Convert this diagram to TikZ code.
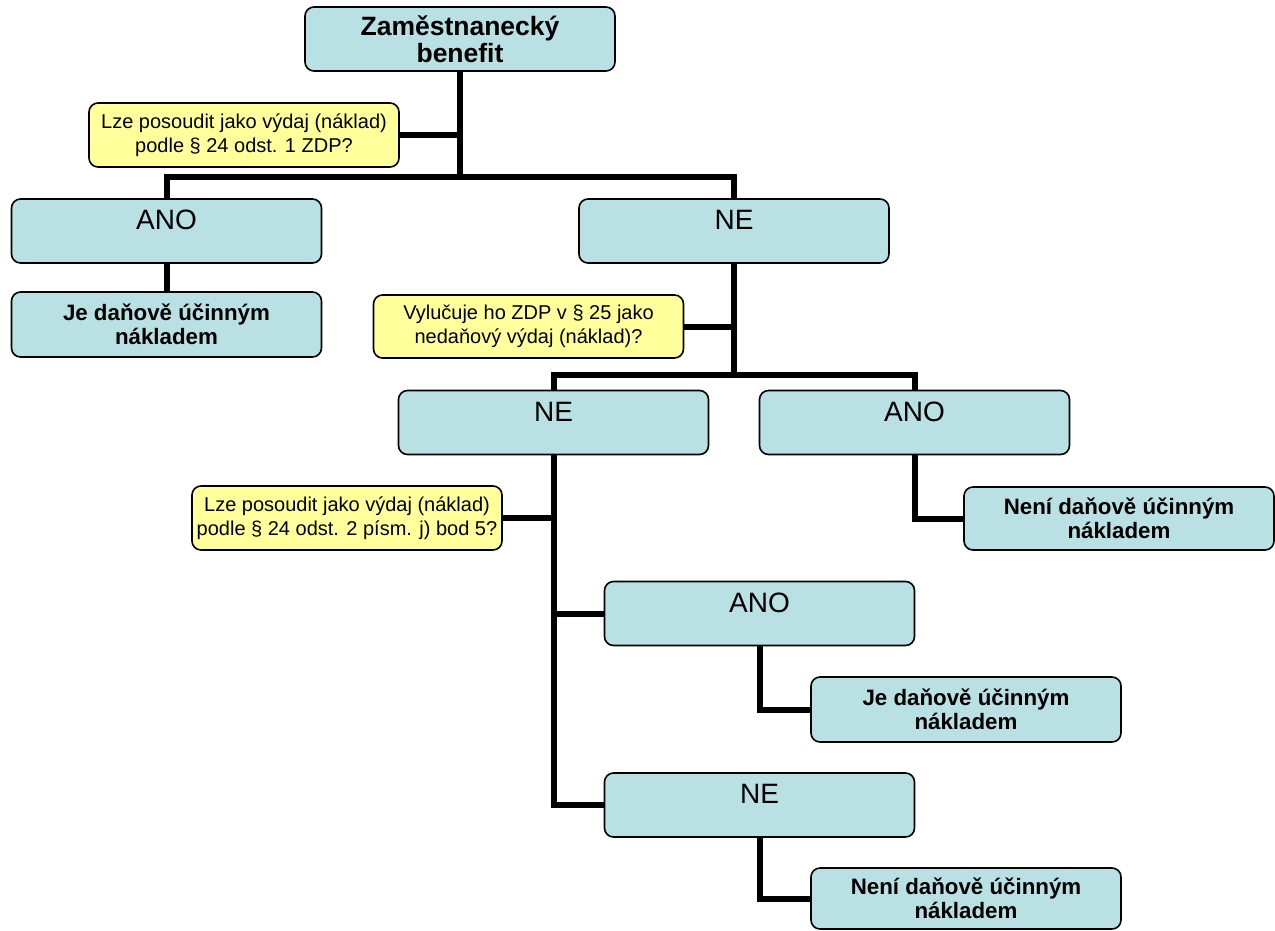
\documentclass[tikz,border=0pt]{standalone}
\usepackage{fontspec}
\setmainfont{Liberation Sans}
\usetikzlibrary{positioning,calc}
\definecolor{BoxTeal}{HTML}{B9E0E3}
\definecolor{AskYellow}{HTML}{FFFF9C}
\tikzset{box/.style={draw=black,line width=1.6pt,rounded corners=9pt,fill=BoxTeal,align=center,minimum width=310pt,minimum height=64pt,inner sep=0pt},
answer/.style={box,font=\fontsize{28}{30}\selectfont,text height=30.5pt,text depth=33.5pt},
result/.style={box,font=\fontsize{22.3}{23.5}\selectfont\bfseries},
ask/.style={box,fill=AskYellow,font=\fontsize{20}{23.5}\selectfont},
conn/.style={line width=6pt,black}}

\begin{document}
\begin{tikzpicture}[x=1pt,y=-1pt]
\useasboundingbox (0,0) rectangle (1275,930);
\node[box,font=\fontsize{26.5}{27.5}\selectfont\bfseries] (benefit) at (460,39) {Zaměstnanecký\\benefit};
\node[ask] (ask1) at (244,135) {Lze posoudit jako výdaj (náklad)\\podle § 24 odst. 1 ZDP?};
\node[answer] (yes1) at (166.5,231) {ANO};
\node[answer] (no1) at (734,231) {NE};
\node[result,minimum height=65pt] (res1) at (166.5,324.5) {Je daňově účinným\\nákladem};
\node[ask,minimum height=63pt] (ask2) at (528.5,326.5) {Vylučuje ho ZDP v § 25 jako\\nedaňový výdaj (náklad)?};
\node[answer] (no2) at (553.5,422.5) {NE};
\node[answer] (yes2) at (914.5,422.5) {ANO};
\node[result,minimum height=63pt] (res2) at (1119,518.5) {Není daňově účinným\\nákladem};
\node[ask] (ask3) at (347,518) {Lze posoudit jako výdaj (náklad)\\podle § 24 odst. 2 písm. j) bod 5?};
\node[answer] (yes3) at (759.5,613.5) {ANO};
\node[result,minimum height=65pt] (res3) at (966,709.5) {Je daňově účinným\\nákladem};
\node[answer] (no3) at (759.5,805) {NE};
\node[result,minimum height=61pt] (res4) at (966,898.5) {Není daňově účinným\\nákladem};
% branch points
\coordinate (split1) at (460,177);
\coordinate (split2) at (734,375);
% first question
\draw[conn] (benefit.south)--(split1);
\draw[conn] (ask1.east)--(ask1.east-|benefit.south);
\draw[conn] (yes1.north)|-(split1)-|(no1.north);
\draw[conn] (yes1.south)--(res1.north);
% second question
\draw[conn] (no1.south)--(split2);
\draw[conn] (ask2.east)--(ask2.east-|no1.south);
\draw[conn] (no2.north)|-(split2)-|(yes2.north);
\draw[conn] (yes2.south)|-(res2.west);
% third question
\draw[conn] (no2.south)|-(no3.west);
\draw[conn] (ask3.east)--(ask3.east-|no2.south);
\draw[conn] (yes3.west)-|(no2.south);
\draw[conn] (yes3.south)|-(res3.west);
\draw[conn] (no3.south)|-(res4.west);
\end{tikzpicture}
\end{document}
